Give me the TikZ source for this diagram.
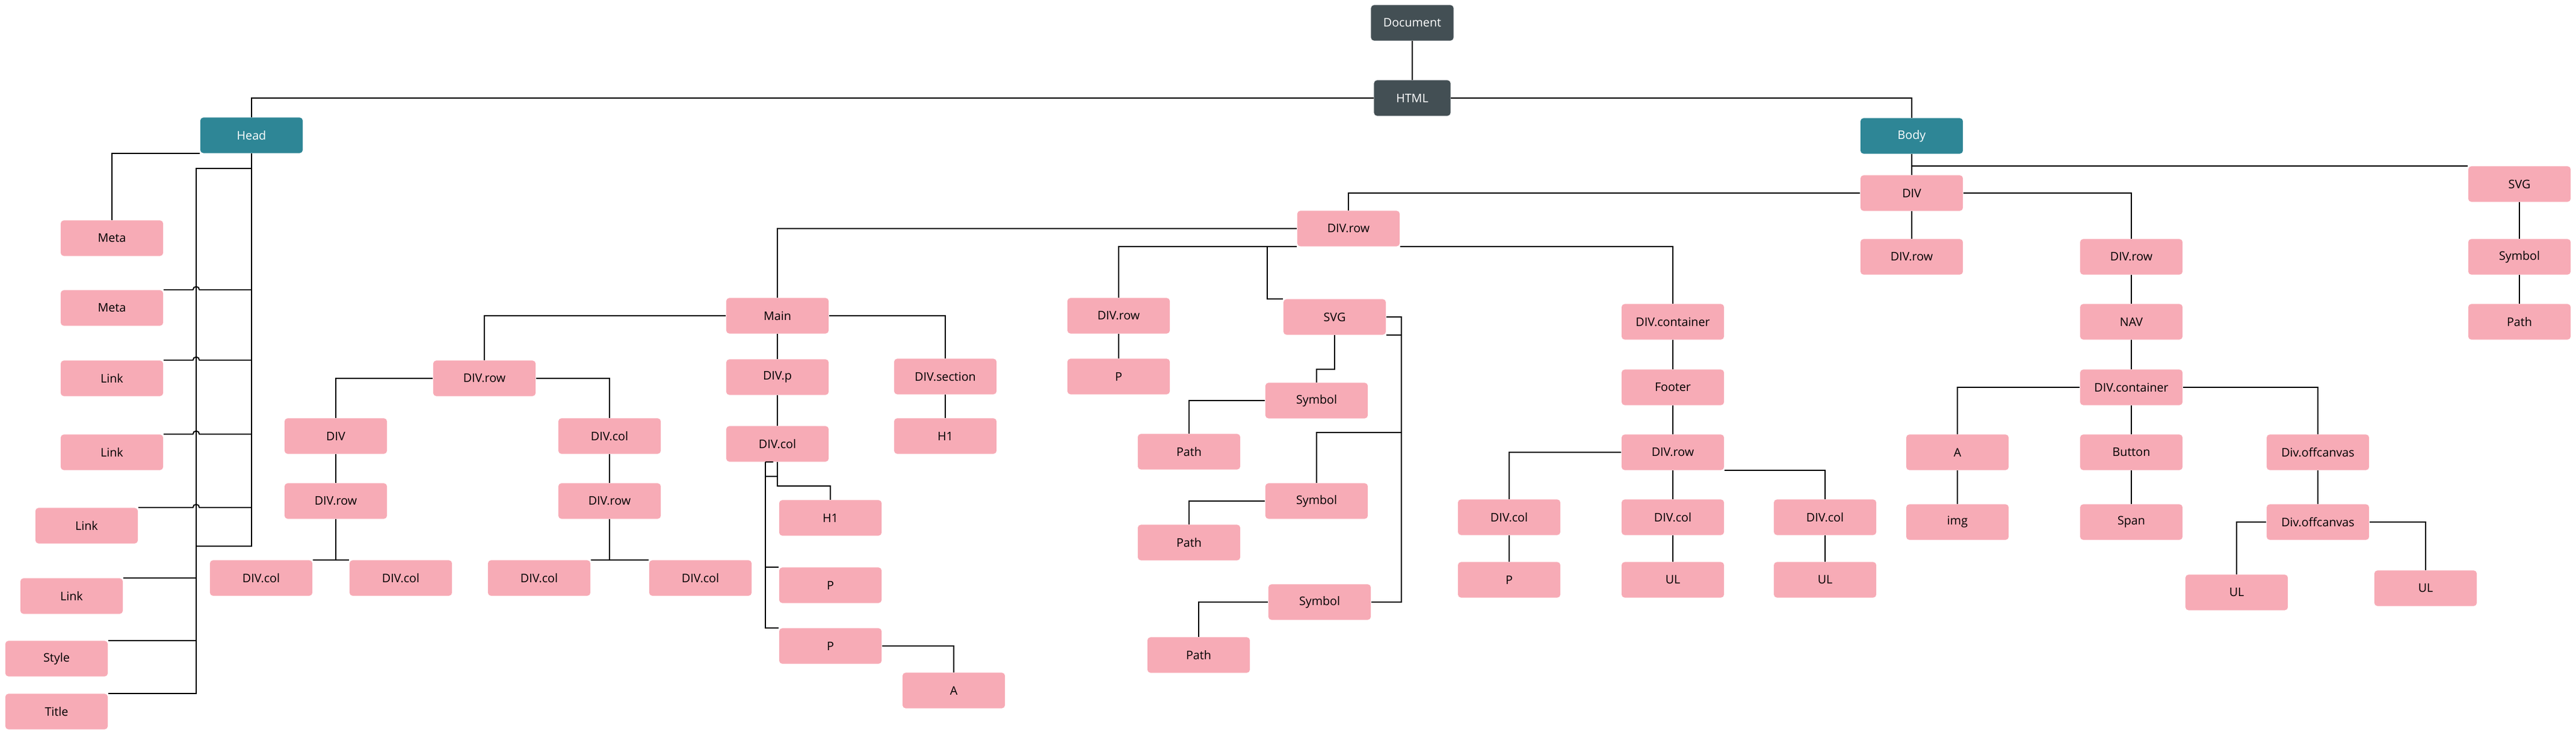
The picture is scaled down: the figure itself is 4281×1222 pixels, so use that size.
\documentclass[tikz,border=0pt]{standalone}
\usepackage{fontspec}
\setmainfont{Open Sans}
\usetikzlibrary{calc}
\definecolor{tagpink}{HTML}{F7ABB6}
\definecolor{tagteal}{HTML}{2E8696}
\definecolor{tagdark}{HTML}{434F54}

\begin{document}
\begin{tikzpicture}[x=0.01cm,y=-0.01cm]
\tikzset{tag/.style = {shape=rectangle,rounded corners=1.4pt,fill=tagpink,minimum width=1.7cm,minimum height=0.59cm,inner sep=0pt,font=\fontsize{5.6}{6.7}\selectfont}}
\tikzset{root/.style = {tag,fill=tagdark,text=white}}
\tikzset{part/.style = {tag,fill=tagteal,text=white}}
\tikzset{edge/.style = {draw=black,line width=0.55pt}}
\useasboundingbox (0,0) rectangle (4281,1222);
% vertices
\node[root,minimum width=1.37cm] (doc) at (2347,38) {Document};
\node[root,minimum width=1.27cm] (html) at (2347,163) {HTML};
\node[part] (head) at (418,225) {Head};
\node[part] (body) at (3177,226) {Body};
% head
\node[tag] (meta1) at (186,396) {Meta};
\node[tag] (meta2) at (186,512) {Meta};
\node[tag] (link1) at (186,629) {Link};
\node[tag] (link2) at (186,752) {Link};
\node[tag] (link3) at (144,874) {Link};
\node[tag] (link4) at (119,991) {Link};
\node[tag] (hstyle) at (94,1095) {Style};
\node[tag] (htitle) at (94,1183) {Title};
% body
\node[tag] (div) at (3177,321) {DIV};
\node[tag] (svgb) at (4187,306) {SVG};
\node[tag] (symb) at (4187,427) {Symbol};
\node[tag] (pathb) at (4187,535) {Path};
\node[tag] (rowa) at (3177,427) {DIV.row};
\node[tag] (rowb) at (3542,427) {DIV.row};
\node[tag] (nav) at (3542,535) {NAV};
\node[tag] (contn) at (3542,644) {DIV.container};
\node[tag] (anav) at (3253,752) {A};
\node[tag] (img) at (3253,868) {img};
\node[tag] (btn) at (3542,752) {Button};
\node[tag] (span) at (3542,868) {Span};
\node[tag] (offa) at (3852,752) {Div.offcanvas};
\node[tag] (offb) at (3852,868) {Div.offcanvas};
\node[tag] (ula) at (3717,985) {UL};
\node[tag] (ulb) at (4031,978) {UL};
% main row
\node[tag] (rowm) at (2241,380) {DIV.row};
\node[tag] (rowp) at (1859,525) {DIV.row};
\node[tag] (prow) at (1859,626) {P};
\node[tag] (svg) at (2218,527) {SVG};
\node[tag] (sym1) at (2188,666) {Symbol};
\node[tag] (path1) at (1976,751) {Path};
\node[tag] (sym2) at (2188,833) {Symbol};
\node[tag] (path2) at (1976,902) {Path};
\node[tag] (sym3) at (2193,1001) {Symbol};
\node[tag] (path3) at (1992,1089) {Path};
% footer
\node[tag] (contf) at (2780,535) {DIV.container};
\node[tag] (footer) at (2780,644) {Footer};
\node[tag] (rowf) at (2780,752) {DIV.row};
\node[tag] (fcol1) at (2508,860) {DIV.col};
\node[tag] (fcol2) at (2780,860) {DIV.col};
\node[tag] (fcol3) at (3033,860) {DIV.col};
\node[tag] (fp) at (2508,964) {P};
\node[tag] (ful1) at (2780,964) {UL};
\node[tag] (ful2) at (3033,964) {UL};
% main
\node[tag] (main) at (1292,525) {Main};
\node[tag] (divp) at (1292,627) {DIV.p};
\node[tag] (colm) at (1292,738) {DIV.col};
\node[tag] (h1m) at (1380,861) {H1};
\node[tag] (pm1) at (1380,973) {P};
\node[tag] (pm2) at (1380,1074) {P};
\node[tag] (am) at (1585,1148) {A};
\node[tag] (sect) at (1571,626) {DIV.section};
\node[tag] (h1s) at (1571,725) {H1};
\node[tag] (rowl) at (805,629) {DIV.row};
\node[tag] (divl) at (558,725) {DIV};
\node[tag] (rowl2) at (558,833) {DIV.row};
\node[tag] (coll) at (1013,725) {DIV.col};
\node[tag] (rowl3) at (1013,833) {DIV.row};
\node[tag] (c1) at (434,961) {DIV.col};
\node[tag] (c2) at (666,961) {DIV.col};
\node[tag] (c3) at (896,961) {DIV.col};
\node[tag] (c4) at (1164,961) {DIV.col};
%edges
\draw[edge] (doc) -- (html);
\draw[edge] (html.west) -| (head.north);
\draw[edge] (html.east) -| (body.north);
% head edges
\coordinate (hbus) at ($(head.south)+(-92,25)$);
\draw[edge] (head.south) -- ++(0,653) -| (hbus) -- (hbus -| head.south);
\draw[edge] (hbus) |- (htitle.north east);
\draw[edge] (meta1.north) |- (head.south west);
\draw[edge] (meta2.north east) -- ([xshift=-1.5pt]hbus |- meta2.north east) arc[start angle=180,end angle=0,radius=1.5pt] -- (head.south |- meta2.north east);
\draw[edge] (link1.north east) -- ([xshift=-1.5pt]hbus |- link1.north east) arc[start angle=180,end angle=0,radius=1.5pt] -- (head.south |- link1.north east);
\draw[edge] (link2.north east) -- ([xshift=-1.5pt]hbus |- link2.north east) arc[start angle=180,end angle=0,radius=1.5pt] -- (head.south |- link2.north east);
\draw[edge] (link3.north east) -- ([xshift=-1.5pt]hbus |- link3.north east) arc[start angle=180,end angle=0,radius=1.5pt] -- (head.south |- link3.north east);
\draw[edge] (link4.north east) -- (hbus |- link4.north east);
\draw[edge] (hstyle.north east) -- (hbus |- hstyle.north east);
% body edges
\draw[edge] (body) -- (div);
\draw[edge] (body.south) |- (svgb.north west);
\draw[edge] (svgb) -- (symb);
\draw[edge] (symb) -- (pathb);
\draw[edge] (div) -- (rowa);
\draw[edge] (div.east) -| (rowb.north);
\draw[edge] (div.west) -| (rowm.north);
\draw[edge] (rowb) -- (nav);
\draw[edge] (nav) -- (contn);
\draw[edge] (contn.west) -| (anav.north);
\draw[edge] (contn) -- (btn);
\draw[edge] (contn.east) -| (offa.north);
\draw[edge] (anav) -- (img);
\draw[edge] (btn) -- (span);
\draw[edge] (offa) -- (offb);
\draw[edge] (offb.west) -| (ula.north);
\draw[edge] (offb.east) -| (ulb.north);
% main row edges
\draw[edge] (rowm.west) -| (main.north);
\draw[edge] (rowm.south west) -| (rowp.north);
\draw[edge] ([xshift=-0.49cm]rowm.south west) |- (svg.north west);
\draw[edge] (rowm.south east) -| (contf.north);
\draw[edge] (rowp) -- (prow);
\draw[edge] (svg.south) -- ++(0,57) -| (sym1.north);
\draw[edge] (sym1.west) -| (path1.north);
\coordinate (svgr) at ([xshift=0.25cm]svg.east);
\draw[edge] (svg.east) -- (svgr) |- (sym3.east);
\draw[edge] (svg.south east) -- (svgr |- svg.south east);
\draw[edge] (sym2.north) -- ++(0,-84) -| (svgr);
\draw[edge] (sym2.west) -| (path2.north);
\draw[edge] (sym3.west) -| (path3.north);
% footer edges
\draw[edge] (contf) -- (footer);
\draw[edge] (footer) -- (rowf);
\draw[edge] (rowf.west) -| (fcol1.north);
\draw[edge] (rowf) -- (fcol2);
\draw[edge] (rowf.south east) -| (fcol3.north);
\draw[edge] (fcol1) -- (fp);
\draw[edge] (fcol2) -- (ful1);
\draw[edge] (fcol3) -- (ful2);
% main edges
\draw[edge] (main.west) -| (rowl.north);
\draw[edge] (main) -- (divp);
\draw[edge] (divp) -- (colm);
\draw[edge] (main.east) -| (sect.north);
\draw[edge] (sect) -- (h1s);
\draw[edge] (colm.south) -- ++(0,40) -| (h1m.north);
\coordinate (cbus) at ([xshift=-0.2cm]colm.south);
\draw[edge] (cbus) -- ++(13,0);
\draw[edge] (cbus) |- (pm2.north west);
\draw[edge] ([yshift=-0.24cm]cbus) -- ([yshift=-0.24cm]colm.south);
\draw[edge] (cbus |- pm1.north west) -- (pm1.north west);
\draw[edge] (pm2.east) -| (am.north);
\draw[edge] (rowl.west) -| (divl.north);
\draw[edge] (rowl.east) -| (coll.north);
\draw[edge] (divl) -- (rowl2);
\draw[edge] (coll) -- (rowl3);
\draw[edge] (rowl2.south) |- (c1.north east);
\draw[edge] (rowl2.south) |- (c2.north west);
\draw[edge] (rowl3.south) |- (c3.north east);
\draw[edge] (rowl3.south) |- (c4.north west);
\end{tikzpicture}
\end{document}
